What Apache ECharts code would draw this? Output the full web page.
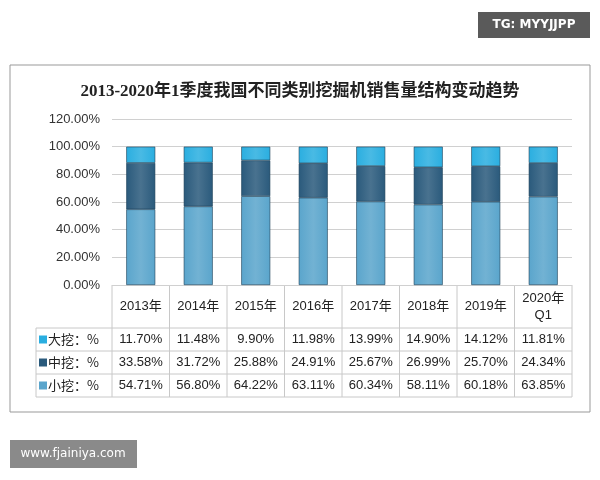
<!DOCTYPE html>
<html><head><meta charset="utf-8">
<script src="https://cdn.jsdelivr.net/npm/echarts@6/dist/echarts.min.js"></script>
<style>html,body{margin:0;padding:0;background:#fff}#c{width:600px;height:480px}</style>
</head><body><div id="c"></div>
<script>
var categories = ['2013年','2014年','2015年','2016年','2017年','2018年','2019年','2020年\nQ1'];
var seriesNames = ['大挖：%','中挖：%','小挖：%'];
var large = [11.70,11.48,9.90,11.98,13.99,14.90,14.12,11.81];
var medium = [33.58,31.72,25.88,24.91,25.67,26.99,25.70,24.34];
var small = [54.71,56.80,64.22,63.11,60.34,58.11,60.18,63.85];
var colors = ['#2aaee0','#2a5a7c','#5aa5cc'];

var chart = echarts.init(document.getElementById('c'));
var L = 112, R = 572, T = 119, B = 285;
var colW = (R - L) / categories.length;
var font = '"Liberation Sans", "Noto Sans CJK SC", sans-serif';
var g = [];
g.push({type:'rect',shape:{x:10,y:65,width:580,height:347},style:{fill:'none',stroke:'#999',lineWidth:1}});
g.push({type:'rect',shape:{x:478,y:12,width:112,height:26},style:{fill:'#5a5a5a'}});
g.push({type:'text',x:534,y:25,style:{text:'TG: MYYJJPP',fill:'#fff',font:'bold 12px "DejaVu Sans"',align:'center',verticalAlign:'middle'}});
g.push({type:'rect',shape:{x:10,y:440,width:127,height:28},style:{fill:'#8a8a8a'}});
g.push({type:'text',x:73,y:454,style:{text:'www.fjainiya.com',fill:'#fff',font:'12px "DejaVu Sans"',align:'center',verticalAlign:'middle'}});
var rowsY = [B, 328, 351, 374, 397];
var tc = '#c8c8c8';
for (var i = 0; i <= categories.length; i++) {
  var x = L + i * colW;
  g.push({type:'line',shape:{x1:x,y1:B,x2:x,y2:397},style:{stroke:tc,lineWidth:1}});
}
g.push({type:'line',shape:{x1:36,y1:328,x2:36,y2:397},style:{stroke:tc,lineWidth:1}});
for (var r = 1; r < rowsY.length; r++) {
  g.push({type:'line',shape:{x1:36,y1:rowsY[r],x2:R,y2:rowsY[r]},style:{stroke:tc,lineWidth:1}});
}
categories.forEach(function(c, i) {
  g.push({type:'text',x:L+(i+0.5)*colW,y:(B+328)/2,style:{text:c,fill:'#222',font:'13px '+font,align:'center',verticalAlign:'middle',lineHeight:17}});
});
var data = [large, medium, small];
data.forEach(function(arr, r) {
  var cy = (rowsY[r+1] + rowsY[r+2]) / 2;
  g.push({type:'rect',shape:{x:39,y:cy-4,width:8,height:8},style:{fill:colors[r]}});
  g.push({type:'text',x:48,y:cy,style:{text:seriesNames[r],fill:'#222',font:'13px "Noto Sans CJK SC"',verticalAlign:'middle'}});
  arr.forEach(function(v, i) {
    g.push({type:'text',x:L+(i+0.5)*colW,y:cy,style:{text:v.toFixed(2)+'%',fill:'#222',font:'13px '+font,align:'center',verticalAlign:'middle'}});
  });
});

function mk(name, arr, col) {
  return {name:name,type:'bar',stack:'a',barWidth:29,data:arr,
    itemStyle:{color:new echarts.graphic.LinearGradient(0,0,1,0,[{offset:0,color:col},{offset:0.5,color:echarts.color.lift(col,0.15)},{offset:1,color:col}]),borderColor:'#1d3f58',borderWidth:0.6}};
}
chart.setOption({
  animation:false,
  title:{text:'2013-2020年1季度我国不同类别挖掘机销售量结构变动趋势',left:'center',top:78,textStyle:{fontSize:17,fontWeight:'bold',color:'#222',fontFamily:'"Liberation Serif", "Noto Sans CJK SC"'}},
  grid:{left:L,right:600-R,top:T,bottom:480-B},
  xAxis:{type:'category',data:categories,axisLabel:{show:false},axisTick:{show:false},axisLine:{show:false}},
  yAxis:{type:'value',min:0,max:120,interval:20,axisLabel:{formatter:function(v){return v.toFixed(2)+'%';},color:'#333',fontSize:13,fontFamily:'"Liberation Sans"',margin:12},
    splitLine:{lineStyle:{color:'#d0d0d0'}},axisLine:{show:false}},
  series:[mk('小挖',small,colors[2]),mk('中挖',medium,colors[1]),mk('大挖',large,colors[0])],
  graphic:g
});
</script></body></html>
